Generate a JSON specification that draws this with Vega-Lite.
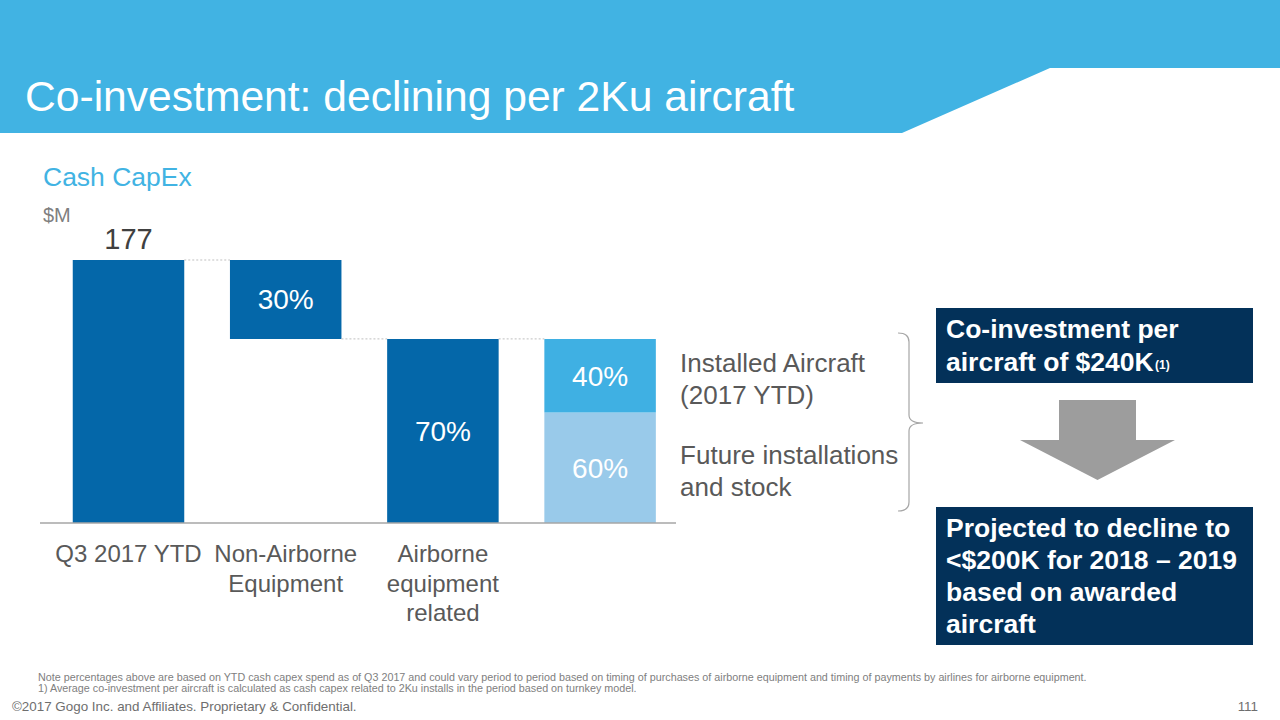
{
  "$schema": "https://vega.github.io/schema/vega-lite/v6.json",
  "width": 1280,
  "height": 720,
  "autosize": {"type": "fit", "contains": "padding"},
  "padding": 0,
  "background": "white",
  "config": {"font": "Liberation Sans", "view": {"stroke": null}},
  "datasets": {
    "bars": [
      {"pos": 0, "segment": "Q3 2017 YTD", "level": 1, "amount": 177, "label": "", "note": "", "category": ["Q3 2017 YTD"]},
      {"pos": 1, "segment": "Airborne (offset)", "level": 1, "amount": 123.9, "label": "", "note": "", "category": ["Non-Airborne", "Equipment"]},
      {"pos": 1, "segment": "Non-Airborne Equipment", "level": 2, "amount": 53.1, "label": "30%", "note": "", "category": ["Non-Airborne", "Equipment"]},
      {"pos": 2, "segment": "Airborne equipment related", "level": 1, "amount": 123.9, "label": "70%", "note": "", "category": ["Airborne", "equipment", "related"]},
      {"pos": 3, "segment": "Future installations and stock", "level": 1, "amount": 74.3, "label": "60%", "note": ["Future installations", "and stock"], "category": [""]},
      {"pos": 3, "segment": "Installed Aircraft (2017 YTD)", "level": 2, "amount": 49.6, "label": "40%", "note": ["Installed Aircraft", "(2017 YTD)"], "category": [""]}
    ],
    "connectors": [
      {"from": 0, "to": 1, "level": 177},
      {"from": 1, "to": 2, "level": 123.9},
      {"from": 2, "to": 3, "level": 123.9}
    ]
  },
  "layer": [
    {
      "data": {"name": "bars"},
      "mark": {"type": "bar", "orient": "vertical", "size": 111.5},
      "encoding": {
        "x": {"field": "pos", "type": "quantitative", "axis": null,
              "scale": {"domain": [-0.81743, 7.32506], "nice": false, "zero": false, "padding": 0}},
        "y": {"field": "amount", "type": "quantitative", "stack": "zero", "axis": null,
              "scale": {"domain": [-132.58, 351.98], "nice": false, "zero": false, "padding": 0}},
        "order": {"field": "level", "type": "quantitative"},
        "color": {"field": "segment", "type": "nominal", "legend": null,
                  "scale": {"domain": ["Q3 2017 YTD", "Airborne (offset)", "Non-Airborne Equipment", "Airborne equipment related", "Future installations and stock", "Installed Aircraft (2017 YTD)"],
                            "range": ["#0467A9", "rgba(0,0,0,0)", "#0467A9", "#0467A9", "#99CAEA", "#3FB0E3"]}}
      }
    },
    {
      "data": {"values": [{"shape": "banner"}]},
      "mark": {"type": "point", "shape": "M-640,-66.5H640V1.5H410L262,66.5H-640Z", "size": 4, "filled": true, "color": "#41B3E3", "opacity": 1, "strokeWidth": 0, "clip": true},
      "encoding": {"x": {"datum": 3.2538}, "y": {"datum": 307.23}}
    },
    {
      "data": {"values": [{"text": "Co-investment: declining per 2Ku aircraft"}]},
      "mark": {"type": "text", "align": "left", "baseline": "alphabetic", "fontSize": 42.6, "color": "white"},
      "encoding": {"x": {"datum": -0.6584}, "y": {"datum": 277.28}, "text": {"field": "text"}}
    },
    {
      "data": {"values": [{"text": "Cash CapEx"}]},
      "mark": {"type": "text", "align": "left", "baseline": "alphabetic", "fontSize": 26.5, "color": "#41B3E3"},
      "encoding": {"x": {"datum": -0.5439}, "y": {"datum": 226.8}, "text": {"field": "text"}}
    },
    {
      "data": {"values": [{"text": "$M"}]},
      "mark": {"type": "text", "align": "left", "baseline": "alphabetic", "fontSize": 20, "color": "#7F7F7F"},
      "encoding": {"x": {"datum": -0.5439}, "y": {"datum": 202.57}, "text": {"field": "text"}}
    },
    {
      "data": {"name": "connectors"},
      "mark": {"type": "rule", "xOffset": 55.75, "x2Offset": -55.75, "strokeDash": [2, 2], "color": "#BFBFBF", "strokeWidth": 1},
      "encoding": {"x": {"field": "from", "type": "quantitative"}, "x2": {"field": "to"}, "y": {"field": "level", "type": "quantitative"}}
    },
    {
      "data": {"values": [{"axis": "baseline"}]},
      "mark": {"type": "rule", "color": "#A6A6A6", "strokeWidth": 1.5},
      "encoding": {"x": {"datum": -0.563}, "x2": {"datum": 3.4828}, "y": {"datum": 0}}
    },
    {
      "data": {"name": "bars"},
      "mark": {"type": "text", "fontSize": 28, "color": "white", "baseline": "middle", "align": "center", "dy": 2},
      "encoding": {
        "x": {"field": "pos", "type": "quantitative"},
        "y": {"field": "amount", "type": "quantitative", "stack": "zero", "bandPosition": 0.5},
        "order": {"field": "level", "type": "quantitative"},
        "detail": {"field": "segment"},
        "text": {"field": "label"}
      }
    },
    {
      "data": {"name": "bars"},
      "mark": {"type": "text", "fontSize": 26, "color": "#595959", "baseline": "middle", "align": "left", "dx": 80, "dy": -12, "lineHeight": 32},
      "encoding": {
        "x": {"field": "pos", "type": "quantitative"},
        "y": {"field": "amount", "type": "quantitative", "stack": "zero", "bandPosition": 0.5},
        "order": {"field": "level", "type": "quantitative"},
        "detail": {"field": "segment"},
        "text": {"field": "note"}
      }
    },
    {
      "data": {"name": "bars"},
      "transform": [{"filter": "datum.pos == 0"}],
      "mark": {"type": "text", "fontSize": 29, "color": "#404040", "baseline": "alphabetic", "align": "center", "dy": -11},
      "encoding": {
        "x": {"field": "pos", "type": "quantitative"},
        "y": {"field": "amount", "type": "quantitative", "stack": null},
        "text": {"field": "amount", "type": "quantitative", "format": ".0f"}
      }
    },
    {
      "data": {"name": "bars"},
      "transform": [{"filter": "datum.level == 1 && datum.pos < 3"}],
      "mark": {"type": "text", "fontSize": 24, "color": "#595959", "baseline": "alphabetic", "align": "center", "dy": 39, "lineHeight": 29.5},
      "encoding": {
        "x": {"field": "pos", "type": "quantitative"},
        "y": {"datum": 0},
        "text": {"field": "category"}
      }
    },
    {
      "data": {"values": [{"shape": "bracket"}]},
      "mark": {"type": "point", "shape": "M-12,-89Q-1,-89,-1,-80V-7Q-1,1,13,1Q-1,1,-1,9V80Q-1,89,-12,89", "size": 4, "filled": false, "stroke": "#A6A6A6", "strokeWidth": 1.2, "opacity": 1},
      "encoding": {"x": {"datum": 4.9714}, "y": {"datum": 67.97}}
    },
    {
      "data": {"values": [{"box": "current"}]},
      "mark": {"type": "rect", "color": "#033159"},
      "encoding": {"x": {"datum": 5.1368}, "x2": {"datum": 7.1533}, "y": {"datum": 144.7}, "y2": {"datum": 94.22}}
    },
    {
      "data": {"values": [{"box": "projected"}]},
      "mark": {"type": "rect", "color": "#033159"},
      "encoding": {"x": {"datum": 5.1368}, "x2": {"datum": 7.1533}, "y": {"datum": 10.77}, "y2": {"datum": -82.11}}
    },
    {
      "data": {"values": [{"text": ["Co-investment per", "aircraft of $240K"]}]},
      "mark": {"type": "text", "align": "left", "baseline": "alphabetic", "fontSize": 26.5, "fontWeight": "bold", "color": "white", "lineHeight": 33},
      "encoding": {"x": {"datum": 5.2004}, "y": {"datum": 124.51}, "text": {"field": "text"}}
    },
    {
      "data": {"values": [{"text": "(1)"}]},
      "mark": {"type": "text", "align": "left", "baseline": "alphabetic", "fontSize": 12, "fontWeight": "bold", "color": "white"},
      "encoding": {"x": {"datum": 6.5299}, "y": {"datum": 103.64}, "text": {"field": "text"}}
    },
    {
      "data": {"values": [{"shape": "arrow"}]},
      "mark": {"type": "point", "shape": "M-38.5,-40H38.5V0H77.5L0,40L-77.5,0H-38.5Z", "size": 4, "filled": true, "color": "#9D9D9D", "opacity": 1, "strokeWidth": 0},
      "encoding": {"x": {"datum": 6.1641}, "y": {"datum": 55.86}}
    },
    {
      "data": {"values": [{"text": ["Projected to decline to", "<$200K for 2018 – 2019", "based on awarded", "aircraft"]}]},
      "mark": {"type": "text", "align": "left", "baseline": "alphabetic", "fontSize": 26.5, "fontWeight": "bold", "color": "white", "lineHeight": 32},
      "encoding": {"x": {"datum": 5.2004}, "y": {"datum": -9.422}, "text": {"field": "text"}}
    },
    {
      "data": {"values": [{"text": ["Note percentages above are based on YTD cash capex spend as of Q3 2017 and could vary period to period based on timing of purchases of airborne equipment and timing of payments by airlines for airborne equipment.", "1) Average co-investment per aircraft is calculated as cash capex related to 2Ku installs in the period based on turnkey model."]}]},
      "mark": {"type": "text", "align": "left", "baseline": "alphabetic", "fontSize": 10.75, "color": "#808080", "lineHeight": 11.5},
      "encoding": {"x": {"datum": -0.5757}, "y": {"datum": -106.33}, "text": {"field": "text"}}
    },
    {
      "data": {"values": [{"text": "©2017 Gogo Inc. and Affiliates. Proprietary & Confidential."}]},
      "mark": {"type": "text", "align": "left", "baseline": "alphabetic", "fontSize": 13.4, "color": "#6E6E6E"},
      "encoding": {"x": {"datum": -0.7411}, "y": {"datum": -126.53}, "text": {"field": "text"}}
    },
    {
      "data": {"values": [{"text": "111"}]},
      "mark": {"type": "text", "align": "right", "baseline": "alphabetic", "fontSize": 13.4, "color": "#6E6E6E"},
      "encoding": {"x": {"datum": 7.1851}, "y": {"datum": -126.53}, "text": {"field": "text"}}
    }
  ]
}
